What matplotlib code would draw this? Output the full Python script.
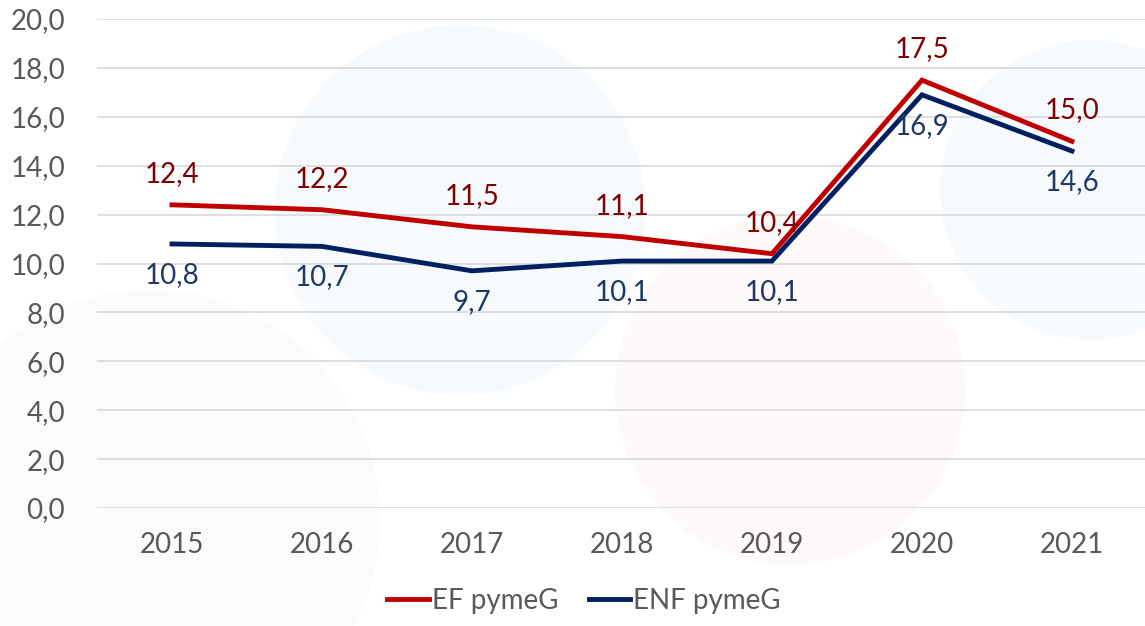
import matplotlib.pyplot as plt
from matplotlib.patches import Ellipse

years = ['2015', '2016', '2017', '2018', '2019', '2020', '2021']
ef_pymeg = [12.4, 12.2, 11.5, 11.1, 10.4, 17.5, 15.0]
enf_pymeg = [10.8, 10.7, 9.7, 10.1, 10.1, 16.9, 14.6]
y_ticks = [0, 2, 4, 6, 8, 10, 12, 14, 16, 18, 20]

plt.rcParams['font.family'] = ['Lato', 'DejaVu Sans']

fig = plt.figure(figsize=(11.45, 6.26), dpi=100)

# faint decorative circles in the background
bg = fig.add_axes([0, 0, 1, 1], zorder=-1)
bg.set_xlim(0, 1145)
bg.set_ylim(626, 0)
bg.axis('off')
for cx, cy, r, col in [(460, 210, 185, '#e6f2fa'), (790, 390, 175, '#fbeef0'),
                       (1090, 190, 150, '#e8f3fb'), (150, 520, 230, '#eef4f9')]:
    bg.add_patch(Ellipse((cx, cy), 2 * r, 2 * r, color=col, alpha=0.35, lw=0))

ax = fig.add_axes([0.0847, 0.1885, 0.917, 0.7811])
ax.patch.set_alpha(0)
x = range(len(years))
ax.plot(x, ef_pymeg, color='#c00000', lw=3.5, label='EF pymeG', solid_joinstyle='miter')
ax.plot(x, enf_pymeg, color='#002060', lw=3.5, label='ENF pymeG', solid_joinstyle='miter')

for i, (a, b) in enumerate(zip(ef_pymeg, enf_pymeg)):
    ax.annotate(f'{a:.1f}'.replace('.', ','), (i, a), xytext=(0, 13), textcoords='offset points',
                ha='center', va='bottom', fontsize=20, color='#7f0000')
    ax.annotate(f'{b:.1f}'.replace('.', ','), (i, b), xytext=(0, -13), textcoords='offset points',
                ha='center', va='top', fontsize=20, color='#1f3864')

ax.set_xlim(-0.5, len(years) - 0.5)
ax.set_ylim(0, 20)
ax.set_yticks(y_ticks)
ax.set_yticklabels([f'{v:.1f}'.replace('.', ',') for v in y_ticks])
ax.set_xticks(list(x))
ax.set_xticklabels(years)
ax.tick_params(length=0, labelsize=20, labelcolor='#595959')
ax.tick_params(axis='y', pad=23)
ax.tick_params(axis='x', pad=17)
ax.grid(axis='y', color='#d9d9d9', lw=1.2)
ax.set_axisbelow(True)
for s in ax.spines.values():
    s.set_visible(False)

leg = fig.legend(loc='lower center', bbox_to_anchor=(0.51, -0.02), ncol=2, frameon=False,
                 fontsize=20, handlelength=1.5, handletextpad=0.1, columnspacing=1.1)
for t in leg.get_texts():
    t.set_color('#595959')

fig.savefig('out.png', dpi=100)
